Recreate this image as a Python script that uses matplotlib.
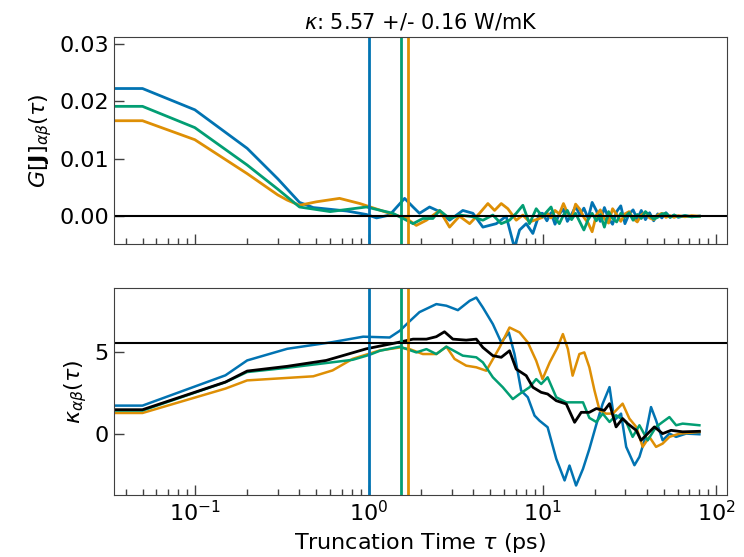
import matplotlib
matplotlib.use('Agg')
import matplotlib.pyplot as plt

# heat flux autocorrelation, one series per direction
# early part read per series, late noisy part on a shared grid
tau_g_xx_head = [0.034, 0.05, 0.1, 0.2, 0.3, 0.4, 0.48, 0.6, 0.75, 0.97, 1.11, 1.32, 1.61, 1.80, 1.96,
                 2.24, 2.56, 2.92, 3.48, 3.98, 4.54, 5.42, 6.18, 6.90, 7.38, 8.06, 8.80, 9.61]
g_xx_head = [0.0222, 0.0222, 0.0185, 0.0118, 0.0065, 0.0024, 0.0015, 0.0012, 0.0009, 0.0003, -0.0003,
             0.0002, 0.0031, 0.0016, 0.0005, 0.0016, 0.0008, -0.0007, 0.0010, 0.0005, -0.0019, -0.0013,
             0.0, -0.0055, -0.0024, -0.0013, -0.0030, 0.0005]

tau_g_yy_head = [0.034, 0.05, 0.1, 0.2, 0.3, 0.34, 0.40, 0.50, 0.68, 0.89, 1.32, 1.65, 1.88, 2.15, 2.56,
                 2.92, 3.33, 3.81, 4.34, 4.85, 5.30, 5.79, 6.32, 7.06, 7.71, 8.42, 9.61]
g_yy_head = [0.0166, 0.0166, 0.0133, 0.0074, 0.0037, 0.0028, 0.0019, 0.0025, 0.0031, 0.0022, 0.0005,
             -0.0004, -0.0016, -0.0007, 0.0010, -0.0019, 0.0, -0.0013, 0.0005, 0.0022, 0.0010, 0.0022,
             0.0013, -0.0007, 0.0002, -0.0010, -0.0004]

tau_g_zz_head = [0.034, 0.05, 0.1, 0.2, 0.3, 0.4, 0.6, 0.97, 1.38, 1.65, 1.80, 2.05, 2.34, 2.56, 2.92,
                 3.33, 3.98, 4.54, 5.18, 5.79, 6.46, 7.06, 7.71, 8.42, 9.20]
g_zz_head = [0.0191, 0.0191, 0.0154, 0.0089, 0.0047, 0.0016, 0.0008, 0.0016, 0.0005, -0.0007, -0.0013,
             -0.0004, -0.0004, 0.0010, -0.0004, 0.0002, -0.0001, -0.0007, 0.0002, -0.0013, -0.0007,
             0.0005, 0.0019, -0.0013, 0.0013]

tau_g_tail = [10.0, 10.6, 11.2, 11.8, 12.5, 13.2, 13.9, 14.7, 15.5, 16.4, 17.3, 18.3, 19.3, 20.4,
              21.5, 22.7, 24.0, 25.3, 26.7, 28.2, 29.8, 31.5, 33.2, 35.1, 37.0, 39.1, 41.3, 43.6,
              46.0, 48.6, 51.3, 54.2, 57.2, 60.4, 66.0, 72.0, 79.9]
g_xx_tail = [0.0005, -0.0008, 0.0006, -0.0014, 0.0004, 0.0012, -0.0009, 0.0003, 0.0017, 0.0002,
             0.0014, -0.0004, 0.0024, 0.0010, -0.0009, 0.0015, -0.0004, -0.0014, 0.0008, 0.0018,
             -0.0013, 0.0004, 0.0011, -0.0005, 0.0010, -0.0006, 0.0006, -0.0008, 0.0004, -0.0003,
             0.0006, -0.0002, 0.0002, -0.0002, 0.0001, -0.0001, 0.0]
g_yy_tail = [-0.0002, 0.0006, -0.0003, 0.0010, 0.0004, 0.0022, 0.0006, -0.0004, 0.0021, 0.0012,
             -0.0002, -0.0012, -0.0027, 0.0002, 0.0011, -0.0004, -0.0012, 0.0013, 0.0003, -0.0009,
             0.0004, 0.0008, -0.0004, -0.0010, 0.0002, 0.0007, -0.0003, -0.0006, 0.0002, 0.0005,
             -0.0002, 0.0001, -0.0002, 0.0001, -0.0001, 0.0001, 0.0]
g_zz_tail = [-0.0001, 0.0008, 0.0016, -0.0003, -0.0013, 0.0002, 0.0010, -0.0006, 0.0005, -0.0010,
             -0.0024, -0.0006, 0.0005, -0.0008, 0.0003, -0.0019, 0.0008, -0.0004, -0.0010, 0.0005,
             -0.0002, 0.0006, -0.0007, 0.0003, -0.0004, 0.0008, 0.0001, -0.0005, -0.0002, 0.0004,
             0.0005, -0.0002, 0.0002, -0.0001, 0.0001, -0.0001, 0.0]

# running thermal conductivity
tau_k_xx = [0.034, 0.05, 0.15, 0.2, 0.34, 0.62, 0.93, 1.32, 1.51, 1.72, 1.96, 2.45, 2.80, 3.26, 3.81,
            4.16, 4.54, 5.18, 5.79, 6.40, 6.90, 7.54, 8.23, 9.00, 9.61, 10.7, 12.0, 13.4, 14.3, 15.6,
            17.1, 18.6, 20.4, 22.2, 24.3, 25.9, 28.3, 30.3, 33.8, 36.1, 38.6, 42.1, 45.0, 49.1, 53.7,
            58.7, 67.0, 79.9]
k_xx = [1.75, 1.75, 3.6, 4.51, 5.22, 5.63, 5.96, 5.91, 6.32, 6.9, 7.46, 7.95, 7.85, 7.58, 8.15,
        8.35, 7.74, 6.73, 5.61, 6.22, 4.90, 2.66, 2.26, 1.14, 0.83, 0.43, -1.5, -2.82, -1.91, -3.13,
        -2.11, -0.9, 0.6, 1.87, 2.88, 0.85, 1.26, -0.77, -1.89, -1.38, -0.37, 1.66, 0.85, -0.37, 0.04,
        -0.16, 0.04, 0.0]

tau_k_yy = [0.034, 0.05, 0.15, 0.2, 0.48, 0.62, 0.81, 1.16, 1.51, 1.72, 2.05, 2.45, 2.80, 3.12, 3.64,
            4.16, 4.75, 5.66, 6.46, 7.38, 8.23, 9.20, 10.0, 11.0, 12.2, 13.1, 14.0, 14.9, 16.3, 17.4,
            18.6, 19.9, 21.3, 23.2, 25.4, 28.9, 31.6, 34.6, 37.7, 41.2, 45.0, 49.1, 53.7, 61.3, 79.9]
k_yy = [1.30, 1.30, 2.79, 3.29, 3.54, 3.90, 4.61, 5.12, 5.30, 5.20, 4.90, 4.90, 5.35, 4.60, 4.19,
        4.09, 3.88, 5.30, 6.52, 6.22, 5.61, 4.49, 3.37, 4.39, 5.30, 6.12, 5.20, 3.58, 4.90, 5.00,
        4.09, 2.68, 1.46, 1.26, 1.26, 1.87, 0.96, 0.45, -0.77, -0.16, -0.77, -0.57, -0.16, 0.04, 0.14]

tau_k_zz = [0.034, 0.05, 0.15, 0.2, 0.34, 0.68, 0.81, 1.01, 1.16, 1.51, 1.88, 2.15, 2.45, 2.80, 3.48,
            4.16, 4.54, 5.18, 5.91, 6.75, 7.38, 8.42, 9.20, 9.83, 10.7, 12.0, 13.7, 17.1, 18.6, 20.4,
            22.2, 24.3, 26.5, 30.3, 33.0, 36.1, 40.3, 45.0, 49.1, 53.7, 58.7, 64.0, 79.9]
k_zz = [1.45, 1.45, 3.18, 3.80, 4.06, 4.45, 4.55, 4.85, 5.10, 5.35, 5.00, 5.20, 4.90, 5.35, 4.80,
        4.70, 4.39, 3.48, 2.87, 2.15, 2.46, 2.87, 3.37, 3.07, 3.48, 2.26, 1.95, 1.95, 1.00, 0.75,
        1.26, 0.75, 1.16, 0.75, -0.16, 0.55, -0.37, 0.45, 0.75, 1.05, 0.55, 0.65, 0.55]

tau_k_avg = [0.034, 0.05, 0.15, 0.2, 0.34, 0.57, 0.97, 1.51, 1.80, 2.15, 2.45, 2.73, 3.05, 3.64, 4.16,
             4.54, 5.18, 5.79, 6.46, 7.06, 8.06, 8.80, 9.83, 10.7, 12.0, 13.7, 15.3, 16.7, 18.6, 20.4,
             22.7, 24.3, 26.5, 28.9, 30.9, 34.6, 36.9, 40.3, 44.0, 49.1, 54.9, 64.0, 79.9]
k_avg = [1.50, 1.50, 3.19, 3.86, 4.15, 4.51, 5.22, 5.63, 5.81, 5.81, 5.96, 6.26, 5.81, 5.75, 5.81,
         5.30, 4.80, 4.70, 5.10, 3.98, 3.58, 2.87, 2.56, 2.46, 2.05, 1.85, 0.73, 1.34, 1.34, 1.57,
         1.46, 1.87, 0.45, 0.96, 0.65, 0.24, -0.37, 0.04, 0.45, 0.04, 0.24, 0.15, 0.18]

cutoffs = [1.0, 1.68, 1.54]  # xx, yy, zz
kappa = 5.57
kappa_err = 0.16

colors = ['#0173b2', '#de8f05', '#029e73']

plt.rcParams['font.size'] = 16
plt.rcParams['mathtext.fontset'] = 'dejavusans'

fig, (ax1, ax2) = plt.subplots(2, 1, sharex=True, figsize=(7.44, 5.57), dpi=100)
fig.subplots_adjust(left=0.153, right=0.977, top=0.934, bottom=0.111, hspace=0.208)

g_series = [(tau_g_xx_head + tau_g_tail, g_xx_head + g_xx_tail),
            (tau_g_yy_head + tau_g_tail, g_yy_head + g_yy_tail),
            (tau_g_zz_head + tau_g_tail, g_zz_head + g_zz_tail)]
k_series = [(tau_k_xx, k_xx), (tau_k_yy, k_yy), (tau_k_zz, k_zz)]

for (t, g), c in zip(g_series, colors):
    ax1.plot(t, g, color=c, lw=2)
for c, tc in zip(colors, cutoffs):
    ax1.axvline(tc, color=c, lw=2)
ax1.axhline(0, color='k', lw=1.5)

for (t, k), c in zip(k_series, colors):
    ax2.plot(t, k, color=c, lw=1.8)
ax2.plot(tau_k_avg, k_avg, color='k', lw=2)
for c, tc in zip(colors, cutoffs):
    ax2.axvline(tc, color=c, lw=2)
ax2.axhline(kappa, color='k', lw=1.5)

ax1.set_xscale('log')
ax1.set_xlim(0.0342, 115)
ax1.set_ylim(-0.0049, 0.0312)
ax1.set_yticks([0.0, 0.01, 0.02, 0.03])
ax2.set_ylim(-3.72, 8.96)
ax2.set_yticks([0, 5])

for ax in (ax1, ax2):
    ax.tick_params(which='major', direction='in', length=7, width=1, color='0.25')
    ax.tick_params(which='minor', direction='in', length=4, width=1, color='0.25')
    for s in ax.spines.values():
        s.set_color('0.25')

ax1.set_ylabel(r'$G[\mathbf{J}]_{\alpha\beta}(\tau)$')
ax2.set_ylabel(r'$\kappa_{\alpha\beta}(\tau)$')
ax2.set_xlabel(r'Truncation Time $\tau$ (ps)')
ax1.set_title(r'$\kappa$: %.2f +/- %.2f W/mK' % (kappa, kappa_err), fontsize=15)

plt.savefig('out.png')
